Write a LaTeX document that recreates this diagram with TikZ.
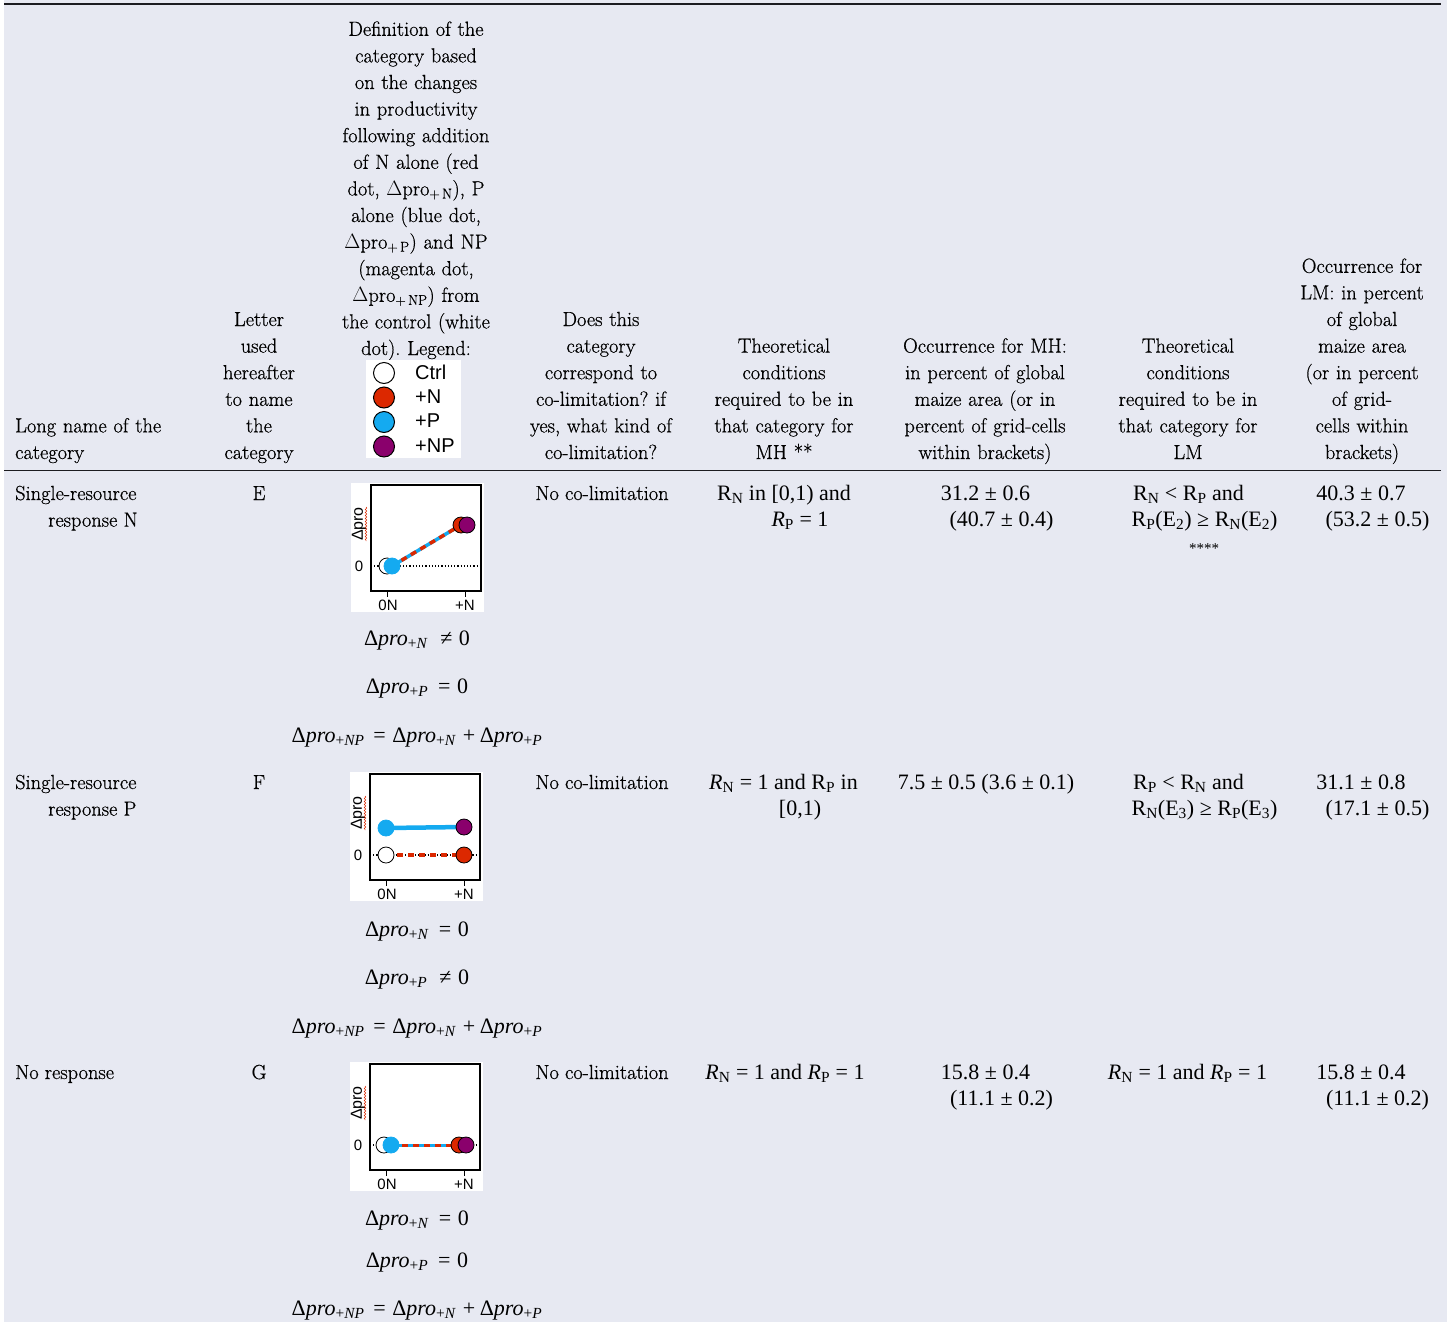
\documentclass[tikz,border=0pt]{standalone}
\usepackage{fontspec}
\usetikzlibrary{decorations.pathmorphing}
\newfontfamily\lmr{Latin Modern Roman}[FakeBold=0.6]
\newfontfamily\tms{Liberation Serif}
\newfontfamily\arl{Liberation Sans}
\definecolor{bgc}{RGB}{231,233,242}
\definecolor{rulec}{RGB}{28,28,32}
\definecolor{cred}{RGB}{220,40,0}
\definecolor{cblue}{RGB}{20,170,240}
\definecolor{cmag}{RGB}{138,0,108}
\frenchspacing
\newcommand{\dpr}[1]{Δ\textit{pro}\textsubscript{+\textit{#1}}}
\newcommand{\hdpro}[1]{$\Delta$pro\textsubscript{+\,#1}}
\newcommand{\plotbase}[1]{%
  \fill[white] (0,0) rectangle (133,129);
  \draw[frm] (20,2) rectangle (130,108);
  \draw[line width=0.8pt] (36,108) -- (36,114);
  \draw[line width=0.8pt] (114,108) -- (114,114);
  \node[plab] (#1X0) at (37,122) {0N};
  \node[plab] (#1XN) at (114,122) {+N};
  \node[plab] (#1Y0) at (8,83) {0};
  \node[plab, font=\arl\fontsize{16}{18}\selectfont, rotate=90] (#1Yl) at (8,41) {Δpro};
  \draw[cred, line width=0.5pt, decorate, decoration={snake, amplitude=0.8pt, segment length=3pt}] (15,24) -- (15,58);
  \draw[zline] (20,83) -- (130,83);
}
\tikzset{
  lm/.style={font=\lmr\fontsize{20.4}{26.6}\selectfont},
  hd/.style={lm, align=center, text width=#1, inner sep=0pt, anchor=base},
  hdl/.style={lm, align=left, text width=#1, inner sep=0pt, anchor=base west},
  tx/.style={lm, inner sep=0pt, anchor=base},
  txl/.style={lm, inner sep=0pt, anchor=base west},
  tm/.style={font=\tms\fontsize{22}{26.6}\selectfont, inner sep=0pt, anchor=base},
  plab/.style={font=\arl\fontsize{15}{17}\selectfont, inner sep=0pt},
  dotc/.style={circle, draw=black, line width=0.8pt, minimum size=16pt, inner sep=0pt},
  legc/.style={circle, draw=black, line width=1pt, minimum size=21pt, inner sep=0pt},
  legt/.style={font=\arl\fontsize{20}{22}\selectfont, inner sep=0pt, anchor=west},
  frm/.style={draw=black, line width=1.8pt},
  zline/.style={dotted, line width=1.2pt, black},
  bluel/.style={cblue, line width=3.5pt},
  redd/.style={cred, line width=3.5pt, dash pattern=on 6pt off 5pt},
  rulel/.style={rulec, line width=#1},
}
\begin{document}
\begin{tikzpicture}[x=1pt,y=-1pt]
\useasboundingbox (0,0) rectangle (1447,1322);
\fill[white] (0,0) rectangle (1447,1322);
\fill[bgc] (4,0) rectangle (1447,1322);
% rules
\coordinate (tl) at (4,4); \coordinate (tr) at (1441,4);
\coordinate (hl) at (4,470.5); \coordinate (hr) at (1441,470.5);
\draw[rulel=2.6pt] (tl) -- (tr);
\draw[rulel=1.3pt] (hl) -- (hr);
% header
\node[hdl=200] (h1) at (15,432.4) {Long name of the\\category};
\node[hd=120] (h2) at (259,326) {Letter\\used\\hereafter\\to name\\the\\category};
\node[hd=190] (h3) at (416,35.8) {Definition of the\\category based\\on the changes\\in productivity\\following addition\\of N alone (red\\dot, \hdpro{N}), P\\alone (blue dot,\\\hdpro{P}) and NP\\(magenta dot,\\\hdpro{NP}) from\\the control (white\\dot). Legend:};
\node[hd=190] (h4) at (601,326) {Does this\\category\\correspond to\\co-limitation? if\\yes, what kind of\\co-limitation?};
\node[hd=190] (h5) at (784,352.6) {Theoretical\\conditions\\required to be in\\that category for\\MH **};
\node[hd=215] (h6) at (985,352.6) {Occurrence for MH:\\in percent of global\\maize area (or in\\percent of grid-cells\\within brackets)};
\node[hd=190] (h7) at (1188,352.6) {Theoretical\\conditions\\required to be in\\that category for\\LM};
\node[hd=160] (h8) at (1362,272.8) {Occurrence for\\LM: in percent\\of global\\maize area\\(or in percent\\of grid-\\cells within\\brackets)};
% legend
\fill[white] (366,360) rectangle (461,458);
\node[legc, fill=white] (lc) at (384,373) {};
\node[legc, fill=cred] (ln) at (384,397.5) {};
\node[legc, fill=cblue] (lp) at (384,422) {};
\node[legc, fill=cmag] (lnp) at (384,446.5) {};
\node[legt] (lct) at (415,372) {Ctrl};
\node[legt] (lnt) at (415,396.5) {+N};
\node[legt] (lpt) at (415,421) {+P};
\node[legt] (lnpt) at (415,445.5) {+NP};

% ===== Row E =====
\node[txl] (e1a) at (15,500) {Single-resource};
\node[txl] (e1b) at (48,526.6) {response N};
\node[tx] (e2) at (259,500) {E};
\node[tx] (e4) at (602,500) {No co-limitation};
\node[tm] (e5a) at (784,500) {R\textsubscript{N} in [0,1) and};
\node[tm] (e5b) at (800,526.6) {\textit{R}\textsubscript{P} = 1};
\node[tm] (e6a) at (985.5,500) {31.2 ± 0.6};
\node[tm] (e6b) at (1001.5,526.6) {(40.7 ± 0.4)};
\node[tm] (e7a) at (1188.5,500) {R\textsubscript{N} < R\textsubscript{P} and};
\node[tm] (e7b) at (1204.5,526.6) {R\textsubscript{P}(E\textsubscript{2}) ≥ R\textsubscript{N}(E\textsubscript{2})};
\node[font=\tms\fontsize{15}{18}\selectfont, inner sep=0pt, anchor=base] (e7c) at (1204,553) {****};
\node[tm] (e8a) at (1361,500) {40.3 ± 0.7};
\node[tm] (e8b) at (1377.5,526.6) {(53.2 ± 0.5)};
\begin{scope}[shift={(351,483)}]
  \plotbase{e}
  \coordinate (eC) at (36,83);
  \coordinate (eP) at (41,83);
  \coordinate (eN) at (110,42);
  \coordinate (eNP) at (116,42);
  \draw[bluel] (eP) -- (eN);
  \draw[redd] (eP) -- (eN);
  \node[dotc, fill=white] (eCd) at (eC) {};
  \node[dotc, fill=cblue, draw=cblue] (ePd) at (eP) {};
  \node[dotc, fill=cred] (eNd) at (eN) {};
  \node[dotc, fill=cmag] (eNPd) at (eNP) {};
\end{scope}
\node[tm] (eq1) at (417,645) {\dpr{N}\hspace{0.55em}≠\hspace{0.3em}0};
\node[tm] (eq2) at (417,693) {\dpr{P}\hspace{0.45em}=\hspace{0.3em}0};
\node[tm] (eq3) at (417,742) {\dpr{NP}\hspace{0.4em}=\hspace{0.3em}\dpr{N}\hspace{0.3em}+\hspace{0.2em}\dpr{P}};

% ===== Row F =====
\node[txl] (f1a) at (15,789) {Single-resource};
\node[txl] (f1b) at (48,815.6) {response P};
\node[tx] (f2) at (259,789) {F};
\node[tx] (f4) at (602,789) {No co-limitation};
\node[tm] (f5a) at (783.5,789) {\textit{R}\textsubscript{N} = 1 and R\textsubscript{P} in};
\node[tm] (f5b) at (800,815.6) {[0,1)};
\node[tm] (f6a) at (986,789) {7.5 ± 0.5 (3.6 ± 0.1)};
\node[tm] (f7a) at (1188.5,789) {R\textsubscript{P} < R\textsubscript{N} and};
\node[tm] (f7b) at (1204.5,815.6) {R\textsubscript{N}(E\textsubscript{3}) ≥ R\textsubscript{P}(E\textsubscript{3})};
\node[tm] (f8a) at (1361,789) {31.1 ± 0.8};
\node[tm] (f8b) at (1377.5,815.6) {(17.1 ± 0.5)};
\begin{scope}[shift={(350,772)}]
  \plotbase{f}
  \coordinate (fC) at (36,83);
  \coordinate (fN) at (114,83);
  \coordinate (fP) at (36,56);
  \coordinate (fNP) at (114,55);
  \draw[redd] (fC) -- (fN);
  \draw[cblue, line width=4.5pt] (fP) -- (fNP);
  \node[dotc, fill=white] (fCd) at (fC) {};
  \node[dotc, fill=cred] (fNd) at (fN) {};
  \node[dotc, fill=cblue, draw=cblue] (fPd) at (fP) {};
  \node[dotc, fill=cmag] (fNPd) at (fNP) {};
\end{scope}
\node[tm] (fq1) at (417,936) {\dpr{N}\hspace{0.45em}=\hspace{0.3em}0};
\node[tm] (fq2) at (417,984) {\dpr{P}\hspace{0.55em}≠\hspace{0.3em}0};
\node[tm] (fq3) at (417,1033) {\dpr{NP}\hspace{0.4em}=\hspace{0.3em}\dpr{N}\hspace{0.3em}+\hspace{0.2em}\dpr{P}};

% ===== Row G =====
\node[txl] (g1a) at (15,1079) {No response};
\node[tx] (g2) at (259,1079) {G};
\node[tx] (g4) at (602,1079) {No co-limitation};
\node[tm] (g5a) at (785,1079) {\textit{R}\textsubscript{N} = 1 and \textit{R}\textsubscript{P} = 1};
\node[tm] (g6a) at (985.5,1079) {15.8 ± 0.4};
\node[tm] (g6b) at (1001.5,1105.6) {(11.1 ± 0.2)};
\node[tm] (g7a) at (1187.5,1079) {\textit{R}\textsubscript{N} = 1 and \textit{R}\textsubscript{P} = 1};
\node[tm] (g8a) at (1361,1079) {15.8 ± 0.4};
\node[tm] (g8b) at (1377.5,1105.6) {(11.1 ± 0.2)};
\begin{scope}[shift={(350,1062)}]
  \plotbase{g}
  \coordinate (gC) at (34,83);
  \coordinate (gP) at (41,83);
  \coordinate (gN) at (109,83);
  \coordinate (gNP) at (116,83);
  \draw[cblue, line width=3pt] (gP) -- (gN);
  \draw[cred, line width=3pt, dash pattern=on 6pt off 5pt] (gP) -- (gN);
  \node[dotc, fill=white] (gCd) at (gC) {};
  \node[dotc, fill=cblue, draw=cblue] (gPd) at (gP) {};
  \node[dotc, fill=cred] (gNd) at (gN) {};
  \node[dotc, fill=cmag] (gNPd) at (gNP) {};
\end{scope}
\node[tm] (gq1) at (417,1225) {\dpr{N}\hspace{0.45em}=\hspace{0.3em}0};
\node[tm] (gq2) at (417,1267) {\dpr{P}\hspace{0.45em}=\hspace{0.3em}0};
\node[tm] (gq3) at (417,1315) {\dpr{NP}\hspace{0.4em}=\hspace{0.3em}\dpr{N}\hspace{0.3em}+\hspace{0.2em}\dpr{P}};
\end{tikzpicture}
\end{document}
